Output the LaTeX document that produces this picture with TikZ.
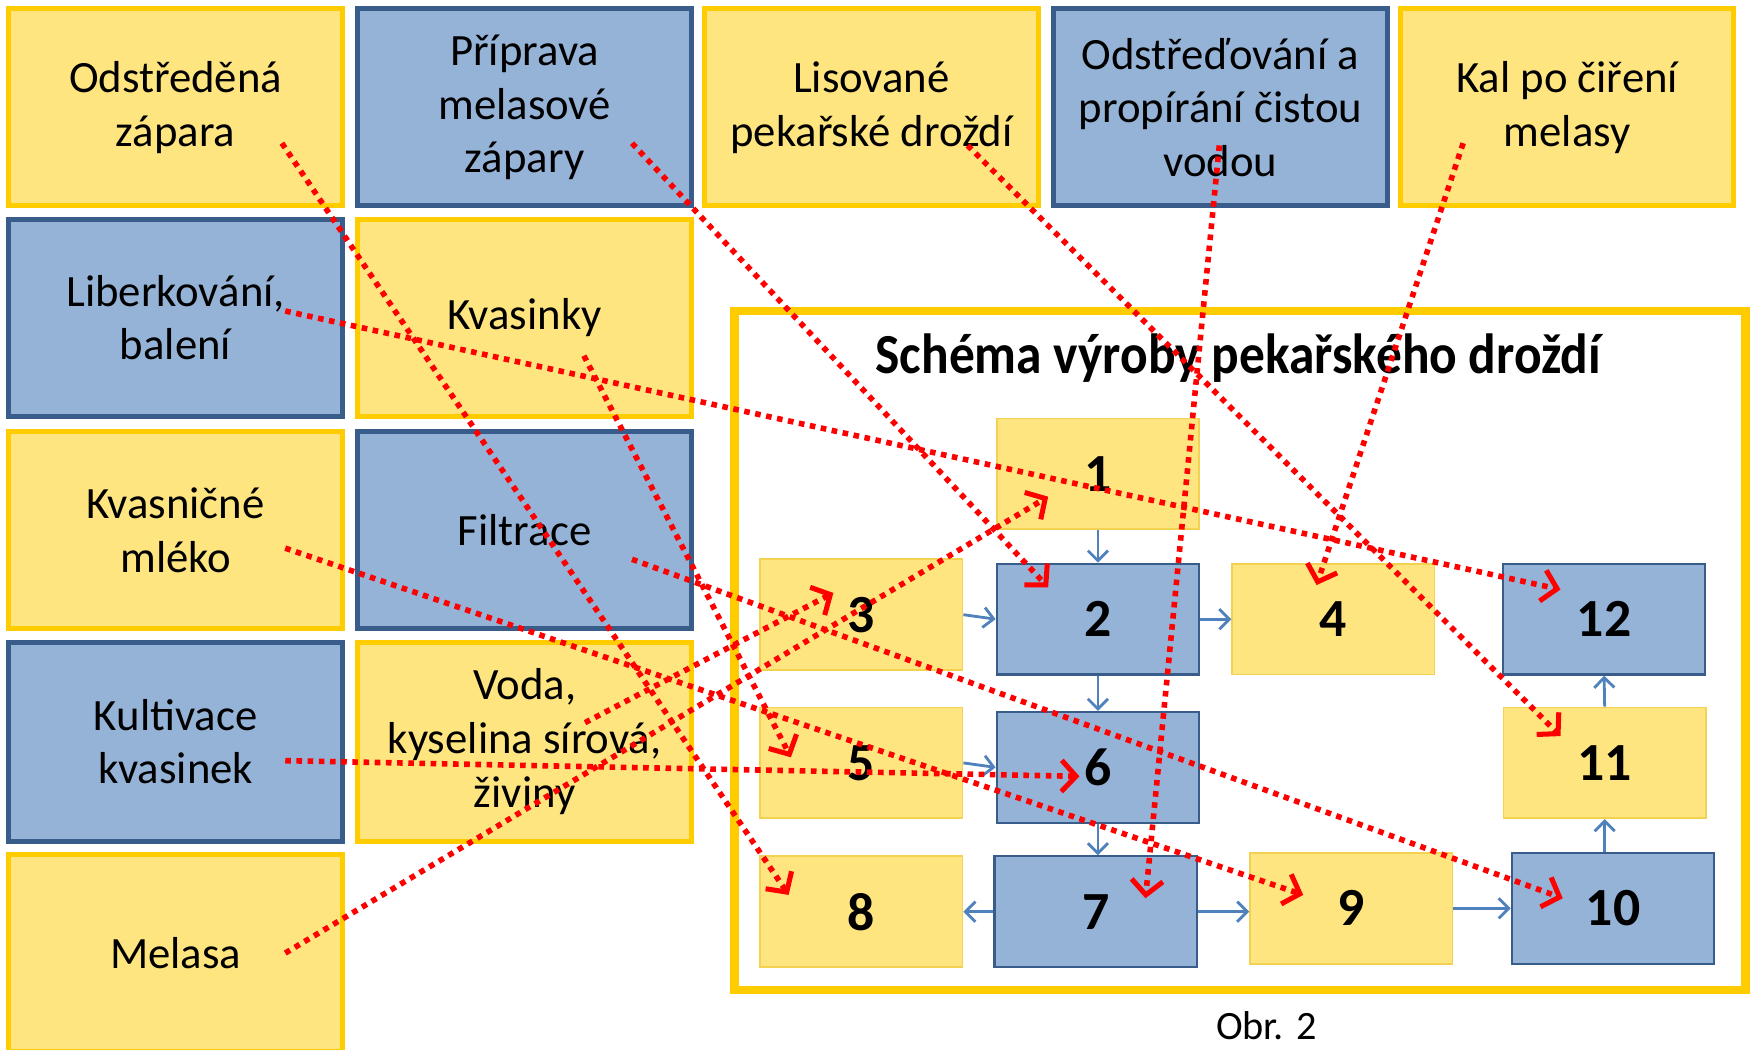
\documentclass[tikz,border=0pt]{standalone}
\usepackage{fontspec}
\setmainfont{Carlito}
\usetikzlibrary{arrows.meta,calc}
\definecolor{yfill}{RGB}{255,229,128}
\definecolor{yline}{RGB}{255,204,0}
\definecolor{bfill}{RGB}{149,179,215}
\definecolor{bline}{RGB}{56,93,138}
\definecolor{sline}{RGB}{242,210,80}
\definecolor{barrow}{RGB}{79,129,189}
\tikzset{
  bigbox/.style={minimum width=298pt, minimum height=176pt, align=center, inner sep=2pt,
    font=\fontsize{40}{48}\selectfont},
  ybox/.style={bigbox, fill=yfill, draw=yline, line width=4.5pt},
  bbox/.style={bigbox, fill=bfill, draw=bline, line width=4.5pt},
  smallbox/.style={minimum width=181pt, minimum height=99pt, inner sep=0pt,
    font=\fontsize{48}{50}\selectfont\bfseries},
  sy/.style={smallbox, fill=yfill, draw=sline, line width=1.5pt},
  sb/.style={smallbox, fill=bfill, draw=bline, line width=2pt},
  flow/.style={draw=barrow, line width=2.5pt, -{Straight Barb[length=9pt,width=18pt,line width=2.5pt]}},
  link/.style={draw=red, line width=5pt, dash pattern=on 5pt off 5pt,
    -{Straight Barb[length=13pt,width=28pt,line width=4.5pt]}}
}
\begin{document}
\begin{tikzpicture}[x=1pt,y=-1pt]
\useasboundingbox (0,0) rectangle (1568,938);
\fill[white] (0,0) rectangle (1568,938);
% left boxes
\node[ybox] (zap) at (157,96) {Odstředěná\\zápara};
\node[bbox] (prip) at (469,96) {Příprava\\melasové\\zápary};
\node[ybox] (lis) at (779,96) {Lisované\\pekařské droždí};
\node[bbox] (ods) at (1091,96) {Odstřeďování a\\propírání čistou\\vodou};
\node[ybox] (kal) at (1401,96) {Kal po čiření\\melasy};
\node[bbox] (lib) at (157,284) {Liberkování,\\balení};
\node[ybox] (kvas) at (469,284) {Kvasinky};
\node[ybox] (mle) at (157,474) {Kvasničné\\mléko};
\node[bbox] (fil) at (469,474) {Filtrace};
\node[bbox, minimum height=178pt] (kul) at (157,663) {Kultivace\\kvasinek};
\node[ybox, minimum height=178pt] (voda) at (469,663) {Voda,\\kyselina sírová,\\živiny};
\node[ybox] (mel) at (157,852) {Melasa};
% frame
\node[draw=yline, line width=8pt, minimum width=903pt, minimum height=607pt, inner sep=0pt] (frame) at (1108.5,581.5) {};
\node[font=\fontsize{46}{50}\selectfont\bfseries, yscale=1.1] (title) at (1107,320) {Schéma výroby pekařského droždí};
% small boxes
\node[sy] (n1) at (981.5,423.5) {1};
\node[sy] (n3) at (770,549.5) {3};
\node[sb] (n2) at (981.5,553.5) {2};
\node[sy] (n4) at (1192,553.5) {4};
\node[sb] (n12) at (1434,553.5) {12};
\node[sy] (n5) at (770,682) {5};
\node[sb] (n6) at (981.5,686) {6};
\node[sy] (n11) at (1434.5,682) {11};
\node[sy] (n8) at (770,815) {8};
\node[sb] (n7) at (979.5,815) {7};
\node[sy] (n9) at (1208,812) {9};
\node[sb] (n10) at (1442,812) {10};
% flow arrows
\draw[flow] (n1.south) -- (n2.north);
\draw[flow] (n3.east) -- (n2.west);
\draw[flow] (n2.east) -- (n4.west);
\draw[flow] (n2.south) -- (n6.north);
\draw[flow] (n5.east) -- (n6.west);
\draw[flow] (n6.south) -- (n6.south |- n7.north);
\draw[flow] (n7.west) -- (n8.east);
\draw[flow] (n7.east) -- (n7.east -| n9.west);
\draw[flow] (n9.east) -- (n9.east -| n10.west);
\draw[flow] (n10.north -| n11.south) -- (n11.south);
\draw[flow] (n11.north) -- (n12.south);
\node[font=\fontsize{36}{40}\selectfont] (obr) at (1132,917) {Obr. 2};
% link end points
\coordinate (sA) at (252,128);  \coordinate (eA) at (705,800);
\coordinate (sB) at (565,128);  \coordinate (eB) at (937,525);
\coordinate (sC) at (865,130);  \coordinate (eC) at (1395,658);
\coordinate (sD) at (1090,130); \coordinate (eD) at (1024,803);
\coordinate (sE) at (1308,128); \coordinate (eE) at (1177,523);
\coordinate (sF) at (255,278);  \coordinate (eF) at (1395,527);
\coordinate (sG) at (522,318);  \coordinate (eG) at (707,677);
\coordinate (sH) at (255,490);  \coordinate (eH) at (1165,800);
\coordinate (sI) at (565,500);  \coordinate (eI) at (1397,803);
\coordinate (sJ) at (255,680);  \coordinate (eJ) at (965,694);
\coordinate (sK) at (523,646);  \coordinate (eK) at (745,530);
\coordinate (sL) at (255,852);  \coordinate (eL) at (937,444);
\foreach \k in {A,B,C,D,E,F,G,H,I,J,K,L}{\draw[link] (s\k) -- (e\k);}
\end{tikzpicture}
\end{document}
